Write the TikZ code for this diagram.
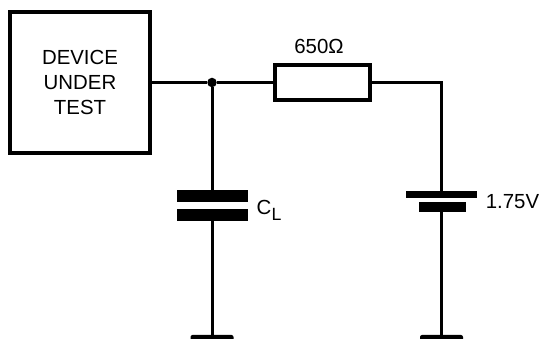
\documentclass[tikz,border=0pt]{standalone}
\usepackage{fontspec}
\setmainfont{Liberation Sans}
\begin{document}
\begin{tikzpicture}[x=1pt,y=-1pt,
  wire/.style={line width=3pt,black},
  boxed/.style={draw=black,fill=white,inner sep=0pt,outer sep=0pt,anchor=center},
  plate/.style={fill=black,inner sep=0pt,outer sep=0pt,anchor=center},
  gndplate/.style={fill=black,inner sep=0pt,outer sep=0pt,anchor=center,rounded corners=2pt,minimum width=43pt,minimum height=12pt},
  lab/.style={inner sep=0pt,outer sep=0pt,anchor=base,font=\fontsize{20.4pt}{25pt}\selectfont},
  ]
  \useasboundingbox (0,0) rectangle (542,339);
  \clip (0,0) rectangle (542,339);
  \node[boxed,line width=4pt,minimum width=140pt,minimum height=141pt] (dut) at (80,82.5) {};
  \node[boxed,line width=4pt,minimum width=95pt,minimum height=35pt] (res) at (322.5,82.5) {};
  \node[circle,fill=black,inner sep=0pt,minimum size=9.5pt] (junction) at (212,82.5) {};
  \node[plate,minimum width=71pt,minimum height=12pt] (capA) at (212.5,196) {};
  \node[plate,minimum width=71pt,minimum height=12pt] (capB) at (212.5,215) {};
  \node[plate,minimum width=71pt,minimum height=7pt] (batA) at (441.5,194.5) {};
  \node[plate,minimum width=47pt,minimum height=10pt] (batB) at (442.5,207) {};
  \node[gndplate] (gndA) at (212,341) {};
  \node[gndplate] (gndB) at (441.5,341) {};
  \coordinate (corner) at (441.5,82.5);
  \draw[wire] (dut.east) -- (junction) -- (res.west);
  \draw[wire,line join=miter] (res.east) -- (corner) -- (corner |- batA.north);
  \draw[wire] (junction) -- (junction |- capA.north);
  \draw[wire] (junction |- capB.south) -- (junction |- gndA.north);
  \draw[wire] (corner |- batB.south) -- (corner |- gndB.north);
  \node[lab] (l1) at (80,65) {DEVICE};
  \node[lab] (l2) at (80,90) {UNDER};
  \node[lab] (l3) at (80,115) {TEST};
  \node[lab] (rv) at (319,54) {650Ω};
  \node[lab] (bv) at (512.5,209) {1.75V};
  \node[lab,anchor=base west] (cl) at (256.5,215) {C};
  \node[lab,anchor=base west,font=\fontsize{17.7pt}{20pt}\selectfont] (clsub) at (271.5,221) {L};
\end{tikzpicture}
\end{document}
